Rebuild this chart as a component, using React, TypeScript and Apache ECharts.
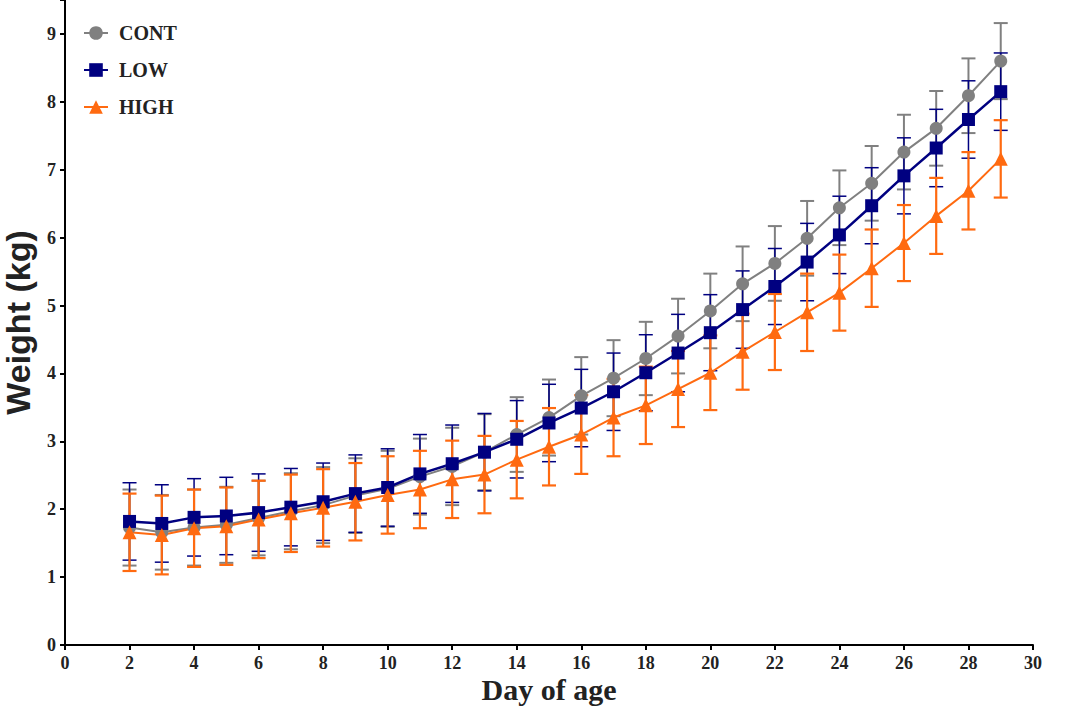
import React, { useEffect, useRef } from "react";
import * as echarts from "echarts";

const DAYS = [2, 3, 4, 5, 6, 7, 8, 9, 10, 11, 12, 13, 14, 15, 16, 17, 18, 19, 20, 21, 22, 23, 24, 25, 26, 27, 28, 29];

const CONT = [1.73, 1.66, 1.73, 1.77, 1.87, 1.97, 2.06, 2.2, 2.3, 2.48, 2.63, 2.84, 3.1, 3.35, 3.67, 3.93, 4.22, 4.55, 4.92, 5.32, 5.62, 5.99, 6.44, 6.8, 7.26, 7.61, 8.09, 8.6];
const CONT_SD = [0.56, 0.55, 0.56, 0.56, 0.55, 0.56, 0.56, 0.55, 0.56, 0.56, 0.57, 0.56, 0.55, 0.56, 0.57, 0.56, 0.54, 0.55, 0.55, 0.55, 0.55, 0.55, 0.55, 0.55, 0.55, 0.55, 0.55, 0.56];

const LOW = [1.82, 1.79, 1.88, 1.9, 1.95, 2.03, 2.11, 2.23, 2.32, 2.52, 2.67, 2.84, 3.03, 3.27, 3.49, 3.73, 4.01, 4.3, 4.6, 4.94, 5.28, 5.64, 6.04, 6.47, 6.91, 7.32, 7.74, 8.15];
const LOW_SD = [0.57, 0.57, 0.57, 0.57, 0.57, 0.57, 0.57, 0.57, 0.57, 0.58, 0.57, 0.57, 0.57, 0.57, 0.57, 0.57, 0.56, 0.57, 0.56, 0.57, 0.56, 0.57, 0.57, 0.56, 0.56, 0.57, 0.57, 0.57];

const HIGH = [1.66, 1.62, 1.72, 1.75, 1.85, 1.94, 2.02, 2.11, 2.21, 2.29, 2.44, 2.51, 2.73, 2.92, 3.1, 3.35, 3.53, 3.77, 4.01, 4.32, 4.61, 4.9, 5.19, 5.55, 5.92, 6.32, 6.69, 7.16];
const HIGH_SD = [0.57, 0.58, 0.57, 0.57, 0.57, 0.57, 0.57, 0.57, 0.57, 0.57, 0.57, 0.57, 0.57, 0.57, 0.58, 0.57, 0.57, 0.56, 0.55, 0.56, 0.56, 0.57, 0.56, 0.57, 0.56, 0.56, 0.57, 0.57];

const SERIES_NAMES = ["CONT", "LOW", "HIGH"];
const Y_TICKS = [0, 1, 2, 3, 4, 5, 6, 7, 8, 9];

const SERIF = '"Liberation Serif", "Times New Roman", serif';
const SANS = '"Liberation Sans", Arial, sans-serif';

const COLORS = { CONT: "#808080", LOW: "#000080", HIGH: "#FF6A10" };

function errorSeries(name: string, means: number[], sds: number[], color: string, lw: number) {
  return {
    type: "custom",
    name: name + "-err",
    data: DAYS.map((d, i) => [d, means[i] - sds[i], means[i] + sds[i]]),
    encode: { x: 0, y: [1, 2] },
    silent: true,
    renderItem: (params: any, api: any) => {
      const x = api.value(0);
      const lo = api.coord([x, api.value(1)]);
      const hi = api.coord([x, api.value(2)]);
      const hw = 7;
      const style = { stroke: color, lineWidth: lw };
      return {
        type: "group",
        children: [
          { type: "line", shape: { x1: lo[0], y1: lo[1], x2: hi[0], y2: hi[1] }, style },
          { type: "line", shape: { x1: lo[0] - hw, y1: lo[1], x2: lo[0] + hw, y2: lo[1] }, style },
          { type: "line", shape: { x1: hi[0] - hw, y1: hi[1], x2: hi[0] + hw, y2: hi[1] }, style },
        ],
      };
    },
  };
}

function lineSeries(name: string, means: number[], color: string, symbol: string, size: number, lw: number) {
  return {
    type: "line",
    name,
    data: DAYS.map((d, i) => [d, means[i]]),
    symbol,
    symbolSize: size,
    showAllSymbol: true,
    lineStyle: { color, width: lw },
    itemStyle: { color },
  };
}

export default function App() {
  const ref = useRef<HTMLDivElement>(null);
  useEffect(() => {
    if (!ref.current) return;
    const chart = echarts.init(ref.current, undefined, { renderer: "svg" });
    chart.setOption({
      animation: false,
      backgroundColor: "#ffffff",
      grid: { left: 65, right: 45, top: 0, bottom: 65, containLabel: false, outerBoundsMode: "none" },
      legend: {
        data: SERIES_NAMES,
        orient: "vertical",
        left: 78,
        top: 18,
        itemWidth: 24,
        itemHeight: 17,
        itemGap: 17,
        textStyle: { fontFamily: SERIF, fontWeight: "bold", fontSize: 20, color: "#222", padding: [0, 0, 0, 6] },
      },
      xAxis: {
        type: "value",
        min: 0,
        max: 30,
        interval: 2,
        name: "Day of age",
        nameLocation: "middle",
        nameGap: 29,
        nameMoveOverlap: false,
        nameTextStyle: { fontFamily: SERIF, fontWeight: "bold", fontSize: 30, color: "#222" },
        axisLine: { show: true, lineStyle: { color: "#000", width: 2 } },
        axisTick: { show: true, length: 5, lineStyle: { color: "#000", width: 2 } },
        axisLabel: { fontFamily: SERIF, fontWeight: "bold", fontSize: 18, color: "#222", margin: 9 },
        splitLine: { show: false },
      },
      yAxis: {
        type: "value",
        min: 0,
        max: 9.5,
        interval: 1,
        name: "Weight (kg)",
        nameLocation: "middle",
        nameGap: 30,
        nameRotate: 90,
        nameMoveOverlap: false,
        nameTextStyle: { fontFamily: SANS, fontWeight: "bold", fontSize: 34, color: "#222" },
        axisLine: { show: true, lineStyle: { color: "#000", width: 2 } },
        axisTick: { show: true, length: 5, lineStyle: { color: "#000", width: 2 } },
        axisLabel: {
          fontFamily: SERIF,
          fontWeight: "bold",
          fontSize: 18,
          color: "#222",
          margin: 9,
          formatter: (v: number) => (Y_TICKS.indexOf(v) >= 0 ? String(v) : ""),
        },
        splitLine: { show: false },
      },
      series: [
        errorSeries("CONT", CONT, CONT_SD, COLORS.CONT, 2),
        lineSeries("CONT", CONT, COLORS.CONT, "circle", 13, 2),
        errorSeries("LOW", LOW, LOW_SD, COLORS.LOW, 1.5),
        lineSeries("LOW", LOW, COLORS.LOW, "rect", 13, 2.5),
        errorSeries("HIGH", HIGH, HIGH_SD, COLORS.HIGH, 2.2),
        lineSeries("HIGH", HIGH, COLORS.HIGH, "triangle", 14, 2),
      ],
    });
    return () => chart.dispose();
  }, []);
  return (
    <div
      ref={ref}
      style={{ position: "fixed", left: 0, top: 0, width: 1078, height: 710, background: "#fff" }}
    />
  );
}
